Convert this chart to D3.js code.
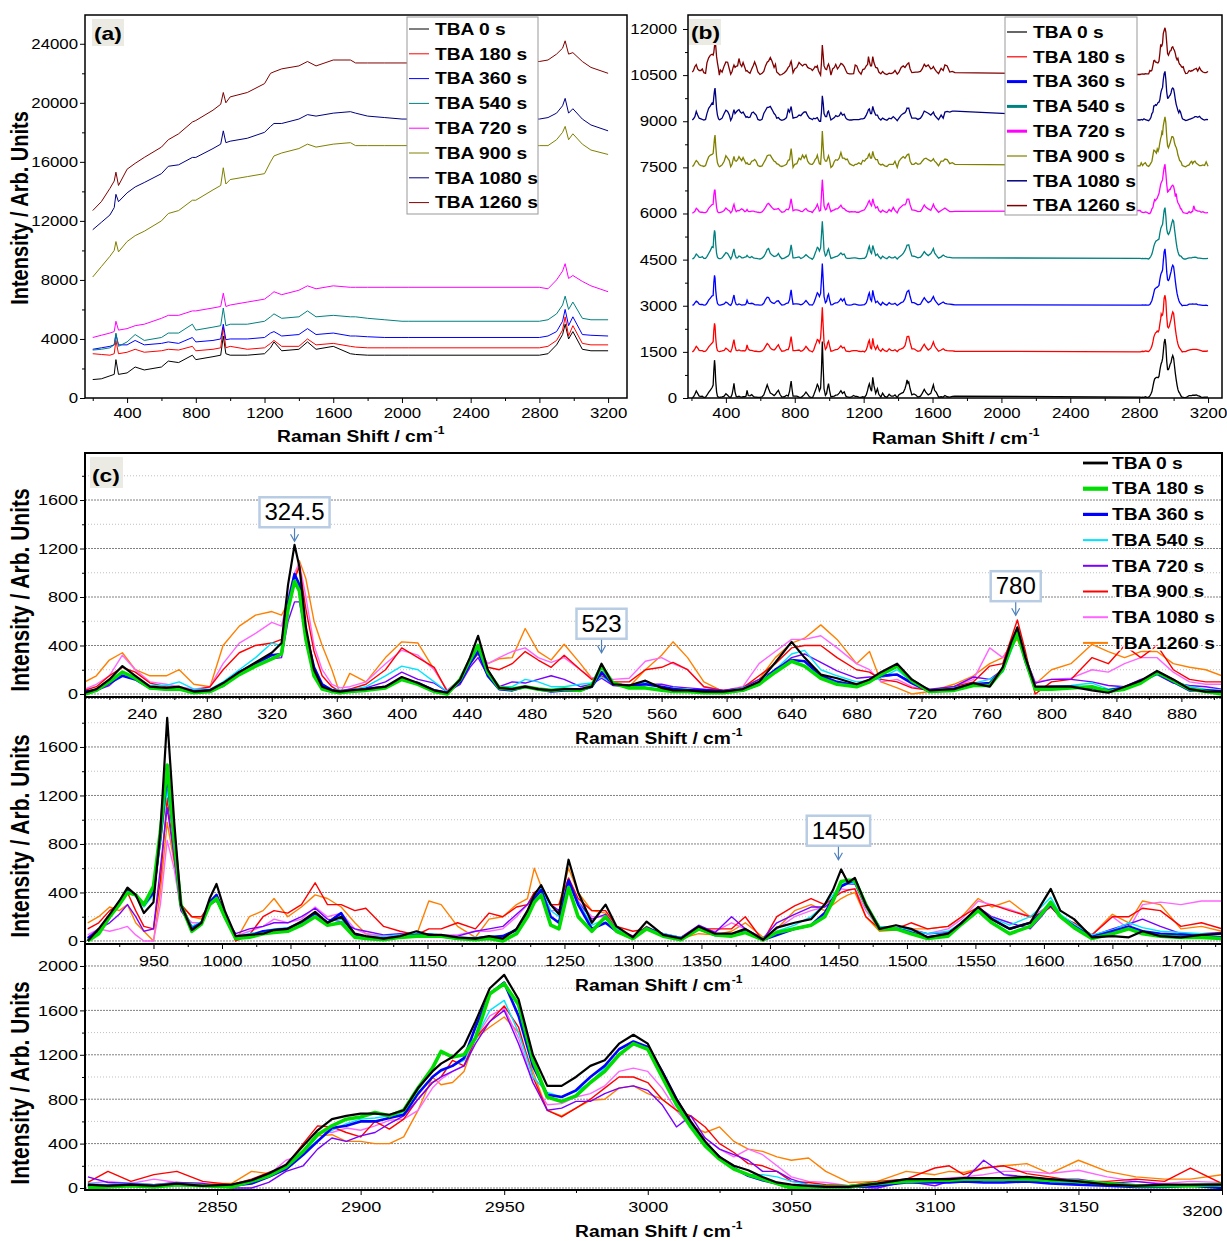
<!DOCTYPE html>
<html>
<head>
<meta charset="utf-8">
<title>TBA Raman spectra</title>
<script src="https://cdn.jsdelivr.net/npm/d3@7"></script>
<style>
  body { margin: 0; background: #fff; }
  text { font-family: "Liberation Sans", Arial, sans-serif; fill: #000; }
</style>
</head>
<body>
<svg id="chart" width="1227" height="1241"></svg>
<script>
// ---- data ----
const seriesNames = ["TBA 0 s", "TBA 180 s", "TBA 360 s", "TBA 540 s", "TBA 720 s", "TBA 900 s", "TBA 1080 s", "TBA 1260 s"];

// panels (a)/(b) palette, panel (c) palette
const colorsAB = ["#000000", "#ff0000", "#0000ff", "#008080", "#ff00ff", "#808000", "#000080", "#800000"];
const colorsC = ["#000000", "#00dd00", "#0000ff", "#00e5ff", "#7a00ff", "#ff0000", "#ff66ff", "#ff8000"];
const widthsC = [2.2, 3.6, 2.6, 1.4, 1.4, 1.4, 1.4, 1.4];

// (a) raw spectra, one row per series
const xA = [200, 250, 300, 325, 335, 350, 400, 447, 500, 600, 640, 700, 780, 800, 900, 945, 960, 975, 1000, 1100,
  1200, 1235, 1255, 1300, 1400, 1450, 1500, 1600, 1700, 1730, 1800, 1900, 2000, 2040, 2800, 2850, 2900, 2935, 2950, 2970,
  2995, 3050, 3100, 3200];
const rawA = [
  [1250,1300,1500,1600,2600, 1600,1700,2100,1900,2100, 2500,2400,2900,2600,2800, 2900,4200,3000,2900,2900,
   3000,3400,3800,3200,3300, 3800,3300,3500,3000,2950, 2900,2900,2900,2900,2900, 3000,3600,4300,5000,4000, 4500,3300,3200,3200],
  [3000,2950,2900,3000,3900, 3000,3100,3300,3100,3200, 3300,3250,3500,3200,3300, 3400,4800,3400,3500,3300,
   3400,3700,3900,3500,3500, 4000,3600,3700,3500,3450, 3400,3400,3400,3400,3400, 3500,3900,4600,5500,4200, 4900,3700,3600,3600],
  [3300,3400,3500,3600,4300, 3600,3600,3900,3600,3700, 3800,3700,4100,3800,3900, 4000,5000,3950,4000,4000,
   4100,4400,4500,4200,4300, 4700,4300,4400,4200,4200, 4150,4100,4100,4100,4100, 4200,4500,5200,6000,4900, 5500,4300,4250,4200],
  [3250,3300,3400,3600,4400, 3500,3800,4300,3900,4100, 4400,4400,5000,4600,4800, 4900,6100,4900,5000,5000,
   5200,5500,5700,5400,5500, 5900,5500,5600,5500,5500, 5400,5300,5200,5200,5200, 5300,5700,6300,6900,6000, 6500,5400,5300,5300],
  [4100,4250,4400,4500,5200, 4600,4700,4900,5000,5400, 5600,5600,5900,5900,6100, 6200,7100,6200,6300,6500,
   6700,7000,7200,7000,7300, 7600,7400,7600,7500,7500, 7500,7500,7500,7500,7500, 7400,8000,8600,9100,8100, 8300,7900,7600,7200],
  [8200,8900,9600,10000,10600, 9900,10600,11000,11300,12000, 12500,12700,13400,13400,14100, 14400,15600,14500,14800,15000,
   15200,16000,16400,16600,16900, 17200,17000,17200,17300,17100, 17100,17100,17100,17100,17100, 17100,17500,18000,18400,17500, 17900,17200,16800,16500],
  [11400,11900,12400,12900,13800, 13300,13900,14300,14600,15200, 15700,15800,16300,16300,16900, 17200,18100,17300,17400,17600,
   18000,18400,18600,18600,18900, 19200,19100,19300,19400,19300, 19100,19000,18900,18900,18900, 19000,19300,19800,20300,19300, 19600,18900,18500,18100],
  [12700,13300,14200,14700,15300, 14400,15500,15900,16300,17000, 17500,17900,18700,18800,19500, 19900,20700,20000,20400,20700,
   21300,22000,22100,22300,22500, 22800,22500,22900,22900,22700, 22700,22700,22700,22700,22800, 22900,23300,23700,24200,23300, 23400,22800,22400,22000]
];

// (b) stacking offsets
const offsetsB = [0, 1500, 3000, 4500, 6000, 7500, 9000, 10500];

// (c) baseline-corrected spectra, three ranges
const xC1 = [205,212,220,228,236,245,255,263,272,282, 290,300,310,320,326,330,334,337,341,346,
  351,357,362,368,378,390,400,410,420,428, 436,442,447,453,460,468,476,484,492,500,
  510,517,523,530,540,550,560,567,576,586, 598,610,620,630,640,648,658,668,680,688,
  695,705,714,725,740,752,762,770,775,779, 784,790,800,812,825,835,845,855,865,875, 885,895,905];
const c1Values = [
  [10,40,120,230,150,60,50,60,20,30, 90,180,260,340,420,900,1230,1050,550,200, 60,30,20,30,40,60,140,90,30,10,
   120,300,480,200,50,40,60,40,30,40, 40,60,250,80,70,110,50,30,30,20, 20,40,100,260,430,300,160,130,80,120,
   180,250,120,30,40,90,60,220,420,550, 300,60,60,60,30,10,60,110,190,120, 40,20,20],
  [0,30,100,180,130,50,40,40,10,20, 70,160,230,290,330,700,930,850,450,150, 40,20,10,20,30,50,120,80,20,0,
   120,280,400,180,50,40,60,40,30,40, 30,70,230,90,50,50,30,20,20,10, 10,30,80,180,270,230,130,80,60,100,
   160,230,110,20,30,70,70,200,380,500, 280,40,40,50,60,20,40,90,180,110, 40,20,0],
  [20,30,90,150,120,50,40,40,20,30, 80,180,250,320,330,750,990,900,500,220, 80,30,20,20,40,60,120,90,30,10,
   100,250,350,150,40,30,60,40,20,30, 30,60,180,80,70,80,60,40,30,30, 20,30,80,200,280,270,150,100,70,110,
   150,160,90,20,40,80,90,200,400,520, 270,50,60,60,50,30,50,100,170,100, 30,30,20],
  [20,40,100,180,140,70,70,100,40,40, 100,200,300,420,400,750,950,880,500,200, 80,40,30,30,60,150,230,200,100,20,
   120,260,350,160,60,60,120,100,60,60, 80,90,140,90,60,100,60,50,40,30, 20,50,100,200,330,360,200,150,100,110,
   130,200,100,30,50,90,120,180,350,480, 300,60,60,70,90,40,60,100,160,110, 60,40,30],
  [10,30,70,170,130,60,40,40,30,30, 60,170,230,290,300,600,760,760,480,200, 70,30,30,40,50,100,180,120,90,20,
   80,220,300,150,60,100,90,120,150,120, 60,80,130,70,60,80,80,60,50,40, 30,50,120,200,300,330,260,190,130,140,
   140,160,100,40,60,140,120,200,380,480, 300,90,120,120,100,70,60,120,160,90, 70,60,40],
  [30,60,150,220,180,90,60,50,30,60, 200,340,400,420,450,700,950,1050,700,350, 150,60,20,40,80,200,380,300,220,20,
   100,250,360,220,200,250,350,280,220,320, 200,120,150,100,100,200,220,260,200,60, 30,50,150,250,380,400,400,300,200,180,
   120,100,50,30,60,100,230,250,450,610, 350,0,100,120,300,250,400,300,400,200, 120,100,100],
  [40,80,150,320,200,100,80,60,40,60, 250,420,500,590,560,800,1000,1080,800,400, 200,80,50,60,100,250,360,320,200,30,
   120,270,380,250,300,350,380,300,260,300, 200,130,150,120,130,270,300,250,200,60, 30,60,250,350,450,450,480,380,250,200,
   100,120,60,30,60,120,380,300,400,480, 300,100,120,130,200,180,250,300,300,180, 100,80,80],
  [100,150,280,340,200,150,150,200,80,60, 400,560,650,680,650,750,950,1100,950,600, 400,200,0,170,100,300,430,420,200,30,
   120,250,330,250,290,300,540,350,280,410, 250,130,150,100,60,200,320,430,300,100, 20,60,120,300,420,460,570,450,250,350,
   100,50,0,20,80,150,250,300,400,450, 300,80,200,250,410,350,300,350,350,250, 220,200,150]
];

const xC2 = [902,910,918,925,931,937,943,950,955,960, 965,970,978,985,991,996,1002,1010,1020,1030,
  1038,1048,1058,1068,1077,1087,1097,1105,1118,1130, 1142,1151,1160,1172,1185,1195,1205,1215,1223,1228,
  1233,1240,1246,1253,1260,1270,1280,1288,1300,1310, 1322,1335,1348,1360,1372,1382,1395,1405,1418,1430,
  1440,1446,1452,1457,1462,1470,1480,1492,1503,1515, 1530,1540,1552,1562,1575,1590,1598,1605,1612,1622,
  1635,1650,1662,1672,1685,1700,1715,1730];
const c2Values = [
  [0,100,220,330,440,380,230,320,900,1840, 1000,300,90,150,350,470,250,40,50,60, 90,100,160,240,150,200,60,40,20,40,
   80,50,50,30,20,40,20,100,250,380, 460,300,220,670,400,150,300,120,30,160, 50,20,120,60,60,100,10,110,150,180,
   300,420,590,480,520,300,100,130,100,30, 60,150,280,180,100,150,300,430,250,180, 30,40,30,80,40,30,50,60],
  [0,60,200,300,400,380,300,450,900,1450, 850,300,80,140,300,350,200,20,30,60, 70,80,130,200,130,150,30,20,10,30,
   40,40,40,20,10,20,0,60,200,320, 380,130,100,440,200,80,200,80,20,100, 40,10,100,50,40,70,10,70,100,130,
   200,330,490,500,500,300,100,100,60,20, 40,140,250,150,60,120,220,320,200,110, 20,60,100,60,40,30,30,20],
  [20,80,200,320,420,380,300,400,850,1370, 850,300,100,150,320,380,200,30,40,80, 90,100,150,230,150,230,50,30,20,30,
   50,50,40,20,20,30,40,90,220,350, 420,200,150,500,300,100,150,80,20,110, 50,20,100,50,50,80,10,50,100,130,
   230,350,450,480,500,300,100,100,70,30, 50,150,260,180,100,150,230,300,200,120, 30,80,120,80,60,50,40,30],
  [10,70,200,300,400,370,280,380,800,1250, 800,300,120,160,300,350,200,40,60,80, 100,110,160,220,160,180,60,40,40,50,
   60,60,50,30,30,40,40,100,240,360, 440,250,200,460,320,130,180,100,30,110, 60,30,100,60,60,90,20,80,130,200,
   300,380,470,470,480,300,120,110,90,60, 80,150,260,190,130,200,280,360,220,140, 50,90,150,110,80,70,60,60],
  [30,100,150,220,300,200,80,100,600,1100, 700,250,120,150,300,330,200,60,100,120, 150,150,200,270,180,160,100,80,50,60,
   50,60,40,40,80,100,120,220,300,380, 420,300,250,480,320,180,220,100,40,110, 60,30,130,70,200,100,20,150,220,280,
   280,330,460,470,470,280,120,110,90,60, 70,150,280,200,150,100,200,300,200,130, 40,100,140,180,120,60,60,70],
  [100,150,250,300,400,250,120,100,500,1180, 700,300,200,200,300,380,250,0,50,200, 250,230,300,480,300,300,250,270,120,80,
   50,100,100,150,100,230,200,280,300,400, 440,300,300,520,350,250,250,120,80,100, 50,30,100,100,100,200,0,200,290,350,
   300,350,400,420,430,200,100,100,150,100, 120,200,280,300,250,200,230,280,200,150, 50,200,200,270,250,120,150,100],
  [50,100,80,100,120,50,0,0,300,830, 600,250,150,150,300,330,200,40,80,120, 180,150,180,280,200,230,100,60,40,40,
   50,50,50,50,80,80,100,200,300,380, 400,250,250,480,330,200,200,100,40,100, 60,30,100,80,150,100,20,100,200,250,
   280,330,430,420,430,250,100,100,100,60, 100,180,330,300,260,200,250,300,200,130, 50,200,100,300,320,300,330,330],
  [150,200,280,250,300,150,80,0,400,980, 650,300,200,180,300,360,250,0,200,250, 350,200,280,380,350,280,150,60,40,40,
   50,330,300,120,30,180,200,300,350,600, 450,300,300,600,400,250,230,100,40,120, 50,20,60,50,80,150,30,100,250,300,
   250,300,350,380,400,200,80,90,100,100, 120,200,350,280,330,200,220,280,200,120, 50,220,150,330,300,100,120,80]
];

const xC3 = [2805,2812,2820,2828,2836,2845,2855,2862,2868,2874, 2880,2885,2890,2895,2900,2905,2910,2915,2920,2925,
  2928,2932,2936,2940,2945,2950,2955,2960,2965,2970, 2975,2980,2985,2990,2995,3000,3005,3010,3015,3020,
  3025,3030,3035,3040,3045,3050,3056,3062,3070,3080, 3090,3100,3105,3110,3117,3124,3132,3140,3150,3160,
  3170,3180,3189,3200];
const c3Values = [
  [30,20,30,20,40,20,30,70,130,210, 380,520,620,650,670,670,660,700,900,1050, 1120,1180,1280,1500,1800,1920,1700,1200,920,920,
   1000,1100,1150,1300,1380,1300,1050,800,600,420, 280,200,160,100,50,30,20,10,10,40, 80,80,80,90,90,90,100,80,60,30, 20,30,30,30],
  [0,10,20,10,30,20,10,60,110,190, 330,480,560,620,640,680,650,700,900,1080, 1230,1180,1200,1350,1750,1840,1650,1150,820,780,
   830,950,1050,1200,1300,1250,1000,750,550,380, 260,170,120,80,40,0,10,10,10,40, 60,70,70,80,80,80,80,70,60,40, 20,20,20,30],
  [20,20,30,20,30,20,20,40,100,170, 300,420,540,560,600,600,630,660,850,1000, 1060,1100,1170,1450,1750,1850,1550,1100,840,820,
   880,1000,1100,1250,1320,1270,1050,800,580,400, 280,180,110,70,40,0,10,10,10,20, 50,50,50,60,50,50,60,40,30,20, 10,10,20,0],
  [40,30,40,30,40,30,20,60,110,180, 310,430,520,580,620,630,650,670,850,1000, 1050,1100,1150,1350,1600,1690,1400,1000,860,820,
   870,950,1080,1200,1290,1250,1000,780,560,380, 260,170,120,120,100,60,30,20,20,40, 60,60,60,70,70,80,70,50,50,40, 30,30,30,40],
  [100,50,40,30,50,40,0,0,50,150, 200,350,450,420,470,500,580,650,800,950, 1000,1050,1100,1300,1500,1600,1300,950,700,720,
   780,780,850,900,920,880,750,550,650,450, 350,300,250,150,150,80,30,20,10,0, 60,20,60,60,250,120,100,80,80,40, 60,30,20,30],
  [50,150,60,120,150,60,30,80,140,200, 400,560,550,500,460,600,530,620,800,950, 1000,1150,1100,1350,1500,1640,1450,1000,700,640,
   720,800,900,1000,1000,950,800,700,650,550, 400,320,220,200,150,60,50,30,20,60, 80,180,200,120,180,200,130,100,60,60, 80,60,180,40],
  [40,60,40,80,50,40,20,60,120,250, 300,500,500,540,520,560,610,620,700,900, 980,1050,1100,1350,1550,1620,1350,950,750,760,
   820,850,920,1050,1080,1050,900,700,550,450, 350,280,350,300,200,100,60,50,20,40, 60,80,90,100,120,150,150,130,160,100, 60,40,60,50],
  [20,30,40,30,50,40,40,150,130,160, 320,470,480,420,420,400,400,460,700,1000, 930,950,1050,1350,1450,1540,1400,1050,700,650,
   720,790,800,900,920,850,800,700,560,500, 550,420,350,330,280,250,270,150,50,60, 150,120,150,140,180,200,220,130,250,150, 100,80,80,120]
];

// peak call-outs in (c): label, position, value at arrow tip, sub-panel
const annLabels = ["324.5", "523", "780", "1450"];
const annX = [334, 523, 778, 1450];
const annY = [1260, 340, 650, 670];
const annPanel = [0, 0, 0, 1];

// ---- drawing ----
const SX = 1.2; // the source figure is stretched horizontally
const svg = d3.select("#chart");
const defs = svg.append("defs");

function stretch(sel) {
  sel.each(function () {
    const w = this.getComputedTextLength();
    if (w > 0) {
      this.setAttribute("textLength", w * SX);
      this.setAttribute("lengthAdjust", "spacingAndGlyphs");
    }
  });
  return sel;
}

function clipRect(id, x, y, w, h) {
  defs.append("clipPath").attr("id", id).append("rect")
    .attr("x", x).attr("y", y).attr("width", w).attr("height", h);
  return "url(#" + id + ")";
}

function xAxis(x, y0, majors, minors, fs, pad) {
  const a = svg.append("g").attr("transform", `translate(0,${y0})`);
  a.append("g").call(d3.axisBottom(x).tickValues(minors).tickSize(3).tickFormat(""));
  const m = a.append("g").call(d3.axisBottom(x).tickValues(majors).tickSize(5).tickPadding(pad).tickFormat(d3.format("d")));
  a.selectAll(".domain").remove();
  m.selectAll("text").attr("font-size", fs);
  stretch(m.selectAll("text"));
  return m;
}

function yAxis(y, x0, majors, minors, fs, pad) {
  const a = svg.append("g").attr("transform", `translate(${x0},0)`);
  a.append("g").call(d3.axisLeft(y).tickValues(minors).tickSize(3).tickFormat(""));
  const m = a.append("g").call(d3.axisLeft(y).tickValues(majors).tickSize(5).tickPadding(pad).tickFormat(d3.format("d")));
  a.selectAll(".domain").remove();
  m.selectAll("text").attr("font-size", fs);
  stretch(m.selectAll("text"));
}

function xTitle(cx, y) {
  const t = svg.append("text").attr("x", cx).attr("y", y).attr("text-anchor", "middle")
    .attr("font-size", 16).attr("font-weight", "bold").text("Raman Shift / cm");
  const w = t.node().getComputedTextLength() * SX;
  stretch(t);
  const s = svg.append("text").attr("x", cx + w / 2 + 1).attr("y", y - 8)
    .attr("font-size", 10).attr("font-weight", "bold").text("-1");
  stretch(s);
}

function yTitle(cx, cy, fs) {
  svg.append("text")
    .attr("transform", `translate(${cx},${cy}) scale(${SX},1) rotate(-90)`)
    .attr("text-anchor", "middle").attr("font-size", fs).attr("font-weight", "bold")
    .text("Intensity / Arb. Units");
}

function panelTag(x, y, w, h, label) {
  svg.append("rect").attr("x", x).attr("y", y).attr("width", w).attr("height", h).attr("fill", "#ecebe3");
  const t = svg.append("text").attr("x", x + 2).attr("y", y + h - 6)
    .attr("font-size", 19).attr("font-weight", "bold").text(label);
  stretch(t);
}

function boxLegend(x, y, w, h, rowY0, step, colors, lineW) {
  svg.append("rect").attr("x", x).attr("y", y).attr("width", w).attr("height", h)
    .attr("fill", "#fff").attr("stroke", "#999").attr("stroke-width", 1);
  seriesNames.forEach((name, i) => {
    const ry = rowY0 + i * step;
    svg.append("line").attr("x1", x + 2).attr("x2", x + 22).attr("y1", ry).attr("y2", ry)
      .attr("stroke", colors[i]).attr("stroke-width", lineW[i]);
    const t = svg.append("text").attr("x", x + 28).attr("y", ry).attr("dy", "0.36em")
      .attr("font-size", 16).attr("font-weight", "bold").text(name);
    stretch(t);
  });
}

// ---------- panel (a) ----------
const xa = d3.scaleLinear().domain([155, 3310]).range([85, 627]);
const ya = d3.scaleLinear().domain([0, 25950]).range([398, 15]);
const lineA = d3.line().x(d => xa(d[0])).y(d => ya(d[1]));
const gA = svg.append("g").attr("clip-path", clipRect("clipA", 85, 15, 542, 383));
rawA.forEach((vals, i) => {
  gA.append("path").datum(xA.map((x, j) => [x, vals[j]]))
    .attr("d", lineA).attr("fill", "none").attr("stroke", colorsAB[i]).attr("stroke-width", 1);
});
svg.append("rect").attr("x", 85).attr("y", 15).attr("width", 542).attr("height", 383)
  .attr("fill", "none").attr("stroke", "#000").attr("stroke-width", 1.5);
xAxis(xa, 398, d3.range(400, 3201, 400), d3.range(200, 3200, 400), 14, 5);
yAxis(ya, 85, d3.range(0, 24001, 4000), d3.range(2000, 26000, 4000), 14, 2);
xTitle(355, 442);
yTitle(28, 208, 20);
panelTag(92, 19, 32, 27, "(a)");
boxLegend(407, 17, 131, 197, 29, 24.8, colorsAB, [1, 1, 1, 1, 1, 1, 1, 1]);

// ---------- panel (b) ----------
function joinedSeries(i) {
  const pts = [];
  xC1.forEach((x, j) => { if (x < 900) pts.push([x, c1Values[i][j]]); });
  xC2.forEach((x, j) => pts.push([x, c2Values[i][j]]));
  xC3.forEach((x, j) => pts.push([x, c3Values[i][j]]));
  return pts;
}
const xb = d3.scaleLinear().domain([180, 3281]).range([688, 1222]);
const yb = d3.scaleLinear().domain([0, 12455]).range([398, 15]);
const lineB = d3.line().x(d => xb(d[0])).y(d => yb(d[1]));
const gB = svg.append("g").attr("clip-path", clipRect("clipB", 688, 15, 534, 383));
seriesNames.forEach((name, i) => {
  gB.append("path").datum(joinedSeries(i).map(p => [p[0], p[1] + offsetsB[i]]))
    .attr("d", lineB).attr("fill", "none").attr("stroke", colorsAB[i]).attr("stroke-width", 1.3);
});
svg.append("rect").attr("x", 688).attr("y", 15).attr("width", 534).attr("height", 383)
  .attr("fill", "none").attr("stroke", "#000").attr("stroke-width", 1.5);
xAxis(xb, 398, d3.range(400, 3201, 400), d3.range(200, 3200, 400), 14, 5);
yAxis(yb, 688, d3.range(0, 12001, 1500), d3.range(750, 12455, 1500), 14, 6);
xTitle(950, 444);
panelTag(689, 19, 32, 26, "(b)");
boxLegend(1005, 17, 132, 198, 32, 24.8, colorsAB, [1.2, 1.2, 3, 3, 3, 1.2, 1.5, 1.5]);

// ---------- panel (c) ----------
const cPanels = [
  { xs: xC1, vals: c1Values, dom: [205, 905], top: 453, bottom: 697, yDom: [-25, 1988],
    majors: d3.range(240, 881, 40), minors: d3.range(220, 905, 40), yMaj: d3.range(0, 1601, 400), yMin: d3.range(200, 1801, 400) },
  { xs: xC2, vals: c2Values, dom: [900, 1730], top: 697, bottom: 944, yDom: [-25, 2012],
    majors: d3.range(950, 1701, 50), minors: d3.range(925, 1730, 50), yMaj: d3.range(0, 1601, 400), yMin: d3.range(200, 2001, 400) },
  { xs: xC3, vals: c3Values, dom: [2804, 3200], top: 944, bottom: 1190, yDom: [-18, 2198],
    majors: d3.range(2850, 3201, 50), minors: d3.range(2825, 3200, 50), yMaj: d3.range(0, 2001, 400), yMin: d3.range(200, 1801, 400) }
];
const yTitleC = [590, 836, 1083];

cPanels.forEach(p => {
  p.x = d3.scaleLinear().domain(p.dom).range([85, 1222]);
  p.y = d3.scaleLinear().domain(p.yDom).range([p.bottom, p.top]);
});

// grid
cPanels.forEach(p => {
  d3.range(0, p.yDom[1], 200).forEach(v => {
    const major = v % 400 === 0;
    svg.append("line").attr("x1", 85).attr("x2", 1222).attr("y1", p.y(v)).attr("y2", p.y(v))
      .attr("stroke", major ? "#808080" : "#b0b0b0").attr("stroke-width", major ? 1 : 0.8)
      .attr("stroke-dasharray", major ? "2,1" : "1,2");
  });
});

// spectra, last series first so TBA 0 s sits on top
cPanels.slice().reverse().forEach((p, k) => {
  const g = svg.append("g").attr("clip-path", clipRect("clipC" + k, 85, p.top, 1137, p.bottom - p.top));
  const line = d3.line().x(d => p.x(d[0])).y(d => p.y(d[1]));
  for (let i = seriesNames.length - 1; i >= 0; i--) {
    g.append("path").datum(p.xs.map((x, j) => [x, p.vals[i][j]]))
      .attr("d", line).attr("fill", "none").attr("stroke", colorsC[i])
      .attr("stroke-width", widthsC[i]).attr("stroke-linejoin", "round");
  }
});

// axes
cPanels.forEach((p, k) => {
  svg.append("line").attr("x1", 85).attr("x2", 1222).attr("y1", p.bottom).attr("y2", p.bottom)
    .attr("stroke", "#000").attr("stroke-width", 1.8);
  const m = xAxis(p.x, p.bottom, p.majors, p.minors, 15, 6);
  if (k === 2) {
    m.selectAll(".tick").filter(d => d === 3200).select("text").attr("text-anchor", "end").attr("dy", "1em");
  }
  yAxis(p.y, 85, p.yMaj, p.yMin, 15, 2);
  xTitle(653, p.bottom + 47);
  yTitle(29, yTitleC[k], 21);
});
svg.append("rect").attr("x", 85).attr("y", 453).attr("width", 1137).attr("height", 737)
  .attr("fill", "none").attr("stroke", "#000").attr("stroke-width", 2);
panelTag(90, 457, 33, 31, "(c)");

// legend of (c)
seriesNames.forEach((name, i) => {
  const ry = 463 + i * 25.7;
  svg.append("line").attr("x1", 1083).attr("x2", 1108).attr("y1", ry).attr("y2", ry)
    .attr("stroke", colorsC[i]).attr("stroke-width", widthsC[i] + 0.6);
  const t = svg.append("text").attr("x", 1112).attr("y", ry).attr("dy", "0.36em")
    .attr("font-size", 16).attr("font-weight", "bold")
    .attr("stroke", "#fff").attr("stroke-width", 3).attr("paint-order", "stroke")
    .text(name);
  stretch(t);
});

// peak call-outs
annLabels.forEach((label, i) => {
  const p = cPanels[annPanel[i]];
  const ax = p.x(annX[i]);
  const tip = p.y(annY[i]);
  const box = svg.append("rect");
  const t = svg.append("text").attr("x", ax).attr("y", tip - 21)
    .attr("text-anchor", "middle").attr("font-family", "Lato, 'Open Sans', sans-serif")
    .attr("font-size", 24).text(label);
  const w = t.node().getComputedTextLength();
  box.attr("x", ax - w / 2 - 5).attr("y", tip - 44).attr("width", w + 10).attr("height", 30)
    .attr("fill", "#fff").attr("stroke", "#b8cce4").attr("stroke-width", 2.5);
  svg.append("line").attr("x1", ax).attr("x2", ax).attr("y1", tip - 13).attr("y2", tip)
    .attr("stroke", "#4f81bd").attr("stroke-width", 1.2);
  svg.append("path").attr("d", `M${ax - 4},${tip - 7}L${ax},${tip}L${ax + 4},${tip - 7}`)
    .attr("fill", "none").attr("stroke", "#4f81bd").attr("stroke-width", 1.2);
});
</script>
</body>
</html>
